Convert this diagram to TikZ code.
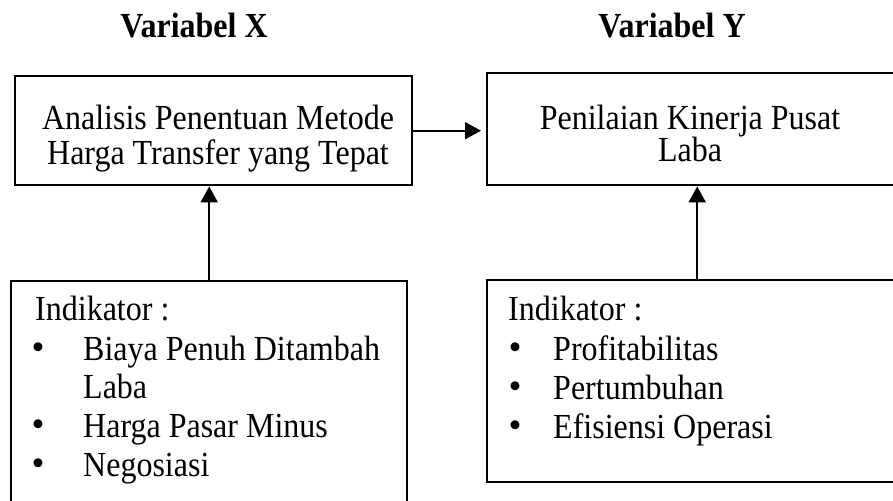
\documentclass[tikz,border=0pt]{standalone}
\usepackage{graphicx}
\usepackage{fontspec}
\setmainfont{Liberation Serif}
\usetikzlibrary{arrows.meta}
\newcommand{\vst}[1]{\scalebox{1}[1.1]{#1}}
\begin{document}
\begin{tikzpicture}[x=1pt,y=-1pt,
  box/.style={draw, line width=2.4pt, rectangle, inner sep=0pt, anchor=north west},
  txt/.style={font=\fontsize{32}{38}\selectfont, inner sep=0pt},
  ctxt/.style={txt, anchor=base},
  ltxt/.style={txt, anchor=base west},
  bul/.style={font=\fontsize{37}{37}\selectfont, inner sep=0pt, anchor=base},
  ttl/.style={font=\fontsize{32}{38}\selectfont\bfseries, inner sep=0pt, anchor=base},
  conn/.style={line width=2pt, -{Triangle[length=16pt,width=17pt]}}]
\useasboundingbox (0,0) rectangle (893,500);
\clip (0,0) rectangle (893,500);

% titles
\node[ttl] (tx) at (194,38) {\vst{Variabel X}};
\node[ttl] (ty) at (672,38) {\vst{Variabel Y}};

% boxes
\node[box, minimum width=397pt, minimum height=109pt] (b1) at (14,75) {};
\node[box, minimum width=420pt, minimum height=112pt] (b2) at (486,72) {};
\node[box, minimum width=396pt, minimum height=240pt] (b3) at (10,280) {};
\node[box, minimum width=420pt, minimum height=202pt] (b4) at (486,279) {};

% box texts
\node[ctxt] (b1a) at (218,129) {\vst{Analisis Penentuan Metode}};
\node[ctxt] (b1b) at (218,164) {\vst{Harga Transfer yang Tepat}};
\node[ctxt] (b2a) at (690,129) {\vst{Penilaian Kinerja Pusat}};
\node[ctxt] (b2b) at (690,161) {\vst{Laba}};

% list X
\node[ltxt] (ix) at (35,320) {\vst{Indikator :}};
\node[bul] (bx1) at (38,359) {•};
\node[ltxt] (x1) at (83,360) {\vst{Biaya Penuh Ditambah}};
\node[ltxt] (x1b) at (83,398) {\vst{Laba}};
\node[bul] (bx2) at (38,436) {•};
\node[ltxt] (x2) at (83,437) {\vst{Harga Pasar Minus}};
\node[bul] (bx3) at (38,475) {•};
\node[ltxt] (x3) at (83,476) {\vst{Negosiasi}};

% list Y
\node[ltxt] (iy) at (508,320) {\vst{Indikator :}};
\node[bul] (by1) at (515,359) {•};
\node[ltxt] (y1) at (553,360) {\vst{Profitabilitas}};
\node[bul] (by2) at (515,398) {•};
\node[ltxt] (y2) at (553,399) {\vst{Pertumbuhan}};
\node[bul] (by3) at (515,437) {•};
\node[ltxt] (y3) at (553,438) {\vst{Efisiensi Operasi}};

% connectors
\draw[conn, shorten >=5pt] (b1.east) -- (b1.east -| b2.west);
\draw[conn] (b3.north) -- (b3.north |- b1.south);
\draw[conn] (b4.north) -- (b4.north |- b2.south);
\end{tikzpicture}
\end{document}
